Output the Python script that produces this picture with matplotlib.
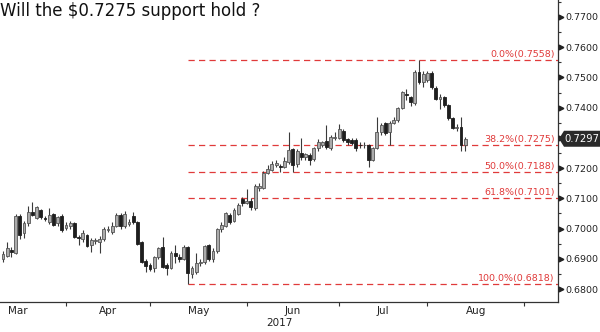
import matplotlib
matplotlib.use("Agg")
import matplotlib.pyplot as plt
import matplotlib.patches as mpatches
from matplotlib.transforms import IdentityTransform, blended_transform_factory, ScaledTranslation
import numpy as np
import pandas as pd

# NZD/USD daily candles, starting 13 Mar 2017
start_date = "2017-03-13"
opens = [0.6900, 0.6910, 0.6930, 0.6920, 0.7043, 0.6986, 0.7018, 0.7055, 0.7035, 0.7060,
         0.7035, 0.7022, 0.7048, 0.7018, 0.7043, 0.7003, 0.7008, 0.7018, 0.6972, 0.6965,
         0.6978, 0.6945, 0.6958, 0.6955, 0.6965, 0.6995, 0.6987, 0.7010, 0.7045, 0.7010,
         0.7015, 0.7042, 0.7020, 0.6955, 0.6892, 0.6880, 0.6870, 0.6905, 0.6938, 0.6878,
         0.6870, 0.6918, 0.6905, 0.6898, 0.6940, 0.6850, 0.6855, 0.6885, 0.6888, 0.6945,
         0.6898, 0.6925, 0.6998, 0.7010, 0.7045, 0.7025, 0.7048, 0.7098, 0.7085, 0.7092,
         0.7068, 0.7135, 0.7135, 0.7185, 0.7195, 0.7210, 0.7208, 0.7205, 0.7220, 0.7262,
         0.7212, 0.7250, 0.7235, 0.7243, 0.7230, 0.7265, 0.7278, 0.7290, 0.7268, 0.7300,
         0.7300, 0.7322, 0.7295, 0.7292, 0.7292, 0.7278, 0.7275, 0.7275, 0.7228, 0.7268,
         0.7318, 0.7348, 0.7318, 0.7350, 0.7358, 0.7398, 0.7445, 0.7435, 0.7415, 0.7518,
         0.7485, 0.7492, 0.7515, 0.7465, 0.7428, 0.7435, 0.7408, 0.7365, 0.7332, 0.7335,
         0.7278]
highs = [0.6925, 0.6955, 0.6940, 0.7048, 0.7048, 0.7025, 0.7075, 0.7088, 0.7075, 0.7065,
         0.7040, 0.7068, 0.7052, 0.7042, 0.7048, 0.7020, 0.7025, 0.7022, 0.6978, 0.6995,
         0.6982, 0.6968, 0.6970, 0.6975, 0.7005, 0.7008, 0.7020, 0.7050, 0.7052, 0.7058,
         0.7030, 0.7055, 0.7025, 0.6960, 0.6900, 0.6885, 0.6908, 0.6940, 0.6972, 0.6885,
         0.6925, 0.6945, 0.6915, 0.6945, 0.6942, 0.6875, 0.6918, 0.6900, 0.6945, 0.6950,
         0.6935, 0.7002, 0.7022, 0.7055, 0.7050, 0.7068, 0.7085, 0.7105, 0.7130, 0.7102,
         0.7148, 0.7150, 0.7190, 0.7210, 0.7225, 0.7228, 0.7215, 0.7235, 0.7320, 0.7268,
         0.7262, 0.7300, 0.7250, 0.7250, 0.7270, 0.7295, 0.7290, 0.7342, 0.7310, 0.7320,
         0.7345, 0.7328, 0.7300, 0.7298, 0.7298, 0.7285, 0.7285, 0.7280, 0.7270, 0.7368,
         0.7350, 0.7352, 0.7355, 0.7368, 0.7402, 0.7455, 0.7460, 0.7440, 0.7525, 0.7558,
         0.7520, 0.7522, 0.7522, 0.7470, 0.7445, 0.7440, 0.7412, 0.7370, 0.7345, 0.7368,
         0.7302]
lows = [0.6890, 0.6905, 0.6905, 0.6915, 0.6965, 0.6969, 0.7010, 0.7040, 0.7030, 0.7030,
        0.7025, 0.7015, 0.7008, 0.7010, 0.6990, 0.6995, 0.7000, 0.6968, 0.6945, 0.6955,
        0.6938, 0.6922, 0.6950, 0.6918, 0.6960, 0.6990, 0.6982, 0.7005, 0.7000, 0.7002,
        0.7010, 0.7015, 0.6945, 0.6885, 0.6855, 0.6858, 0.6855, 0.6900, 0.6868, 0.6845,
        0.6865, 0.6885, 0.6890, 0.6895, 0.6818, 0.6835, 0.6850, 0.6875, 0.6882, 0.6892,
        0.6890, 0.6920, 0.6990, 0.7005, 0.7015, 0.7020, 0.7045, 0.7075, 0.7080, 0.7062,
        0.7062, 0.7125, 0.7130, 0.7180, 0.7190, 0.7205, 0.7187, 0.7200, 0.7215, 0.7188,
        0.7205, 0.7228, 0.7228, 0.7210, 0.7222, 0.7258, 0.7270, 0.7262, 0.7260, 0.7292,
        0.7295, 0.7285, 0.7278, 0.7275, 0.7258, 0.7268, 0.7265, 0.7204, 0.7222, 0.7262,
        0.7310, 0.7310, 0.7276, 0.7345, 0.7352, 0.7395, 0.7425, 0.7405, 0.7408, 0.7478,
        0.7468, 0.7485, 0.7462, 0.7425, 0.7395, 0.7402, 0.7360, 0.7328, 0.7322, 0.7255,
        0.7258]
closes = [0.6915, 0.6935, 0.6922, 0.7043, 0.6980, 0.7018, 0.7055, 0.7045, 0.7070, 0.7038,
          0.7033, 0.7045, 0.7012, 0.7038, 0.6995, 0.7012, 0.7018, 0.6972, 0.6968, 0.6985,
          0.6942, 0.6962, 0.6962, 0.6965, 0.6998, 0.6998, 0.7010, 0.7045, 0.7008, 0.7048,
          0.7022, 0.7020, 0.6948, 0.6890, 0.6875, 0.6865, 0.6905, 0.6935, 0.6872, 0.6870,
          0.6920, 0.6908, 0.6898, 0.6940, 0.6853, 0.6868, 0.6885, 0.6890, 0.6942, 0.6898,
          0.6925, 0.6998, 0.7012, 0.7050, 0.7022, 0.7060, 0.7078, 0.7085, 0.7092, 0.7070,
          0.7142, 0.7140, 0.7183, 0.7198, 0.7215, 0.7218, 0.7202, 0.7225, 0.7260, 0.7210,
          0.7255, 0.7235, 0.7245, 0.7228, 0.7265, 0.7285, 0.7285, 0.7270, 0.7302, 0.7302,
          0.7330, 0.7292, 0.7285, 0.7282, 0.7265, 0.7275, 0.7278, 0.7227, 0.7265, 0.7320,
          0.7343, 0.7315, 0.7348, 0.7360, 0.7398, 0.7452, 0.7442, 0.7418, 0.7518, 0.7485,
          0.7512, 0.7515, 0.7468, 0.7430, 0.7435, 0.7408, 0.7365, 0.7332, 0.7336, 0.7278,
          0.7297]

fib_ratios = [0.0, 0.382, 0.5, 0.618, 1.0]
month_names = ["Mar", "Apr", "May", "Jun", "Jul", "Aug"]
year_label = "2017"
title = "Will the $0.7275 support hold ?"

opens, highs, lows, closes = map(np.asarray, (opens, highs, lows, closes))
n = len(closes)
dates = pd.bdate_range(start_date, periods=n)

# trading-day calendar used for the x axis (business days)
cal = pd.bdate_range("2017-03-01", "2017-09-30")
origin = cal.get_loc(dates[0])
pos = np.arange(n)

fig = plt.figure(figsize=(6.0, 3.32), dpi=100)
ax = fig.add_axes([0.0, 30 / 332, 558 / 600, 302 / 332])

# candle bodies and wicks
up = closes >= opens
body_lo = np.minimum(opens, closes)
body_h = np.maximum(np.abs(closes - opens), 0.00025)
ax.vlines(pos, lows, highs, color="#3a3a3a", lw=0.8, zorder=3)
ax.bar(pos[up], body_h[up], bottom=body_lo[up], width=0.68,
       color="#ababab", edgecolor="#555555", linewidth=0.6, zorder=4)
ax.bar(pos[~up], body_h[~up], bottom=body_lo[~up], width=0.68,
       color="#1e1e1e", edgecolor="#1e1e1e", linewidth=0.6, zorder=4)

# Fibonacci retracement from the May low to the July high
i_lo = int(np.argmin(lows))
swing_lo = lows.min()
swing_hi = highs.max()
xmin, xmax = -0.71, 132.1
red = "#e03a3a"
for r in fib_ratios:
    lvl = swing_hi - r * (swing_hi - swing_lo)
    ax.plot([i_lo, xmax], [lvl, lvl], color=red, lw=0.9, dashes=(5.0, 3.4), zorder=2)
    ax.text(xmax - 0.8, lvl + 0.0003, f"{r * 100:.1f}%({lvl:.4f})", color=red,
            fontsize=6.8, ha="right", va="bottom", zorder=5)

ax.set_xlim(xmin, xmax)
ax.set_ylim(0.6757, 0.7756)

# month boundaries as ticks, month names centred in each month
months = pd.period_range("2017-03", "2017-09", freq="M")
firsts = [cal.get_indexer([cal[cal.to_period("M") == m][0]])[0] - origin for m in months]
ax.set_xticks(firsts[1:])
ax.set_xticklabels([])
centers = [(firsts[k] + firsts[k + 1]) / 2 for k in range(len(month_names))]
ax.set_xticks(centers, minor=True)
ax.set_xticklabels(month_names, minor=True)
ax.tick_params(axis="x", which="major", direction="out", length=3, width=0.8, color="#333333")
ax.tick_params(axis="x", which="minor", length=0, pad=3, labelsize=7.5, labelcolor="#222222")
fig.text((558 / 2) / 600, 9 / 332, year_label, fontsize=7.5, color="#222222", ha="center", va="center")

# right-hand price axis; the label under the last-price tag is left blank
last = closes[-1]
ax.yaxis.tick_right()
yt = np.round(np.arange(0.68, 0.7701, 0.01), 4)
ax.set_yticks(yt)
ax.set_yticklabels(["" if abs(v - last) < 0.0012 else f"{v:.4f}" for v in yt])
ax.set_yticks(np.round(yt[:-1] + 0.005, 4).tolist() + [0.775], minor=True)
ax.tick_params(axis="y", which="major", length=0, pad=5.5, labelsize=6.8, labelcolor="#222222")
ax.tick_params(axis="y", which="minor", direction="out", length=2.5, width=0.8, color="#333333")
tri_tr = blended_transform_factory(ax.transAxes, ax.transData) + ScaledTranslation(2.8 / 100, 0, fig.dpi_scale_trans)
ax.plot(np.ones_like(yt), yt, marker=">", ls="none", ms=3.4, color="#222222",
        transform=tri_tr, clip_on=False, zorder=6)

for s in ("top", "left"):
    ax.spines[s].set_visible(False)
for s in ("right", "bottom"):
    ax.spines[s].set_color("#333333")
    ax.spines[s].set_linewidth(0.9)

# last-price tag
fig.canvas.draw()
_, ypx = ax.transData.transform((0, last))
xpx = ax.transAxes.transform((1, 0))[0]
h = 8.0
tag = mpatches.Polygon([(xpx + 1, ypx), (xpx + 6, ypx + h), (600, ypx + h),
                        (600, ypx - h), (xpx + 6, ypx - h)],
                       closed=True, transform=IdentityTransform(), facecolor="#2a2a2a",
                       edgecolor="none", zorder=10)
fig.patches.append(tag)
fig.text((xpx + 6.5) / 600, ypx / 332, f"{last:.4f}", color="white", fontsize=7.2,
         ha="left", va="center", zorder=11)

fig.text(0.0, 1 - 2 / 332, title, fontsize=12, color="#111111", ha="left", va="top")

fig.savefig("out.png", dpi=100)
